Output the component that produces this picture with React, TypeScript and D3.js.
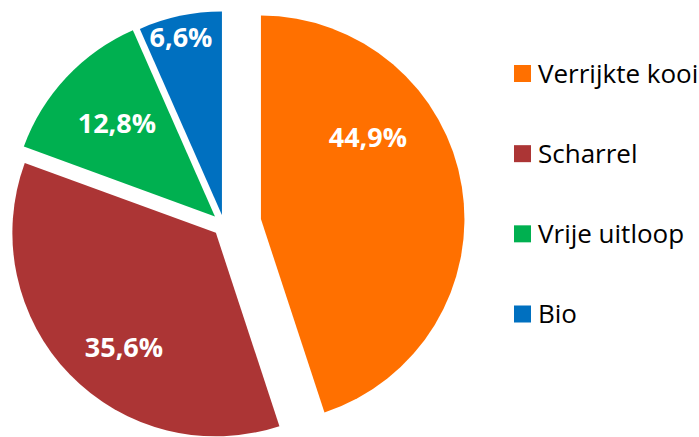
import React from "react";
import * as d3 from "d3";

// shares of laying-hen housing systems (percent)
const categories = ["Verrijkte kooi", "Scharrel", "Vrije uitloop", "Bio"];
const shares = [44.9, 35.6, 12.8, 6.6];
const labels = ["44,9%", "35,6%", "12,8%", "6,6%"];

// styling / layout per slice
const colors = ["#FF7000", "#AC3535", "#00B050", "#0070C0"];
const explode = [37.4, 11.3, 12.4, 10.1]; // px pulled out along the bisector
const labelAngle = [52.7, 218.7, 313.4, 347]; // degrees clockwise from top
const labelDist = [134.5, 147, 135, 182];

const W = 699;
const H = 437;
const cx = 224;
const cy = 225;
const R = 203.5;

export default function App() {
  const pie = d3
    .pie<number>()
    .sort(null)
    .value((d) => d);
  const arcs = pie(shares);
  const arc = d3
    .arc<d3.PieArcDatum<number>>()
    .innerRadius(0)
    .outerRadius(R);

  const legendY = d3
    .scalePoint<string>()
    .domain(categories)
    .range([73.5, 314]);

  return (
    <div style={{ position: "absolute", left: 0, top: 0 }}>
      <svg width={W} height={H} style={{ display: "block", background: "#fff" }}>
        {arcs.map((a, i) => {
          const mid = (a.startAngle + a.endAngle) / 2;
          const ox = cx + explode[i] * Math.sin(mid);
          const oy = cy - explode[i] * Math.cos(mid);
          const la = (labelAngle[i] * Math.PI) / 180;
          const lx = ox + labelDist[i] * Math.sin(la);
          const ly = oy - labelDist[i] * Math.cos(la);
          return (
            <g key={categories[i]}>
              <path
                transform={`translate(${ox},${oy})`}
                d={arc(a) || ""}
                fill={colors[i]}
              />
              <text
                x={lx}
                y={ly + 9.5}
                textAnchor="middle"
                fill="#fff"
                fontFamily="'Open Sans', sans-serif"
                fontWeight={700}
                fontSize={27}
              >
                {labels[i]}
              </text>
            </g>
          );
        })}
        {categories.map((c, i) => {
          const y = legendY(c) as number;
          return (
            <g key={"lg" + c}>
              <rect x={514} y={y - 8.5} width={17} height={17} fill={colors[i]} />
              <text
                x={538}
                y={y + 9}
                fill="#000"
                fontFamily="'Open Sans', sans-serif"
                fontSize={26}
              >
                {c}
              </text>
            </g>
          );
        })}
      </svg>
    </div>
  );
}
